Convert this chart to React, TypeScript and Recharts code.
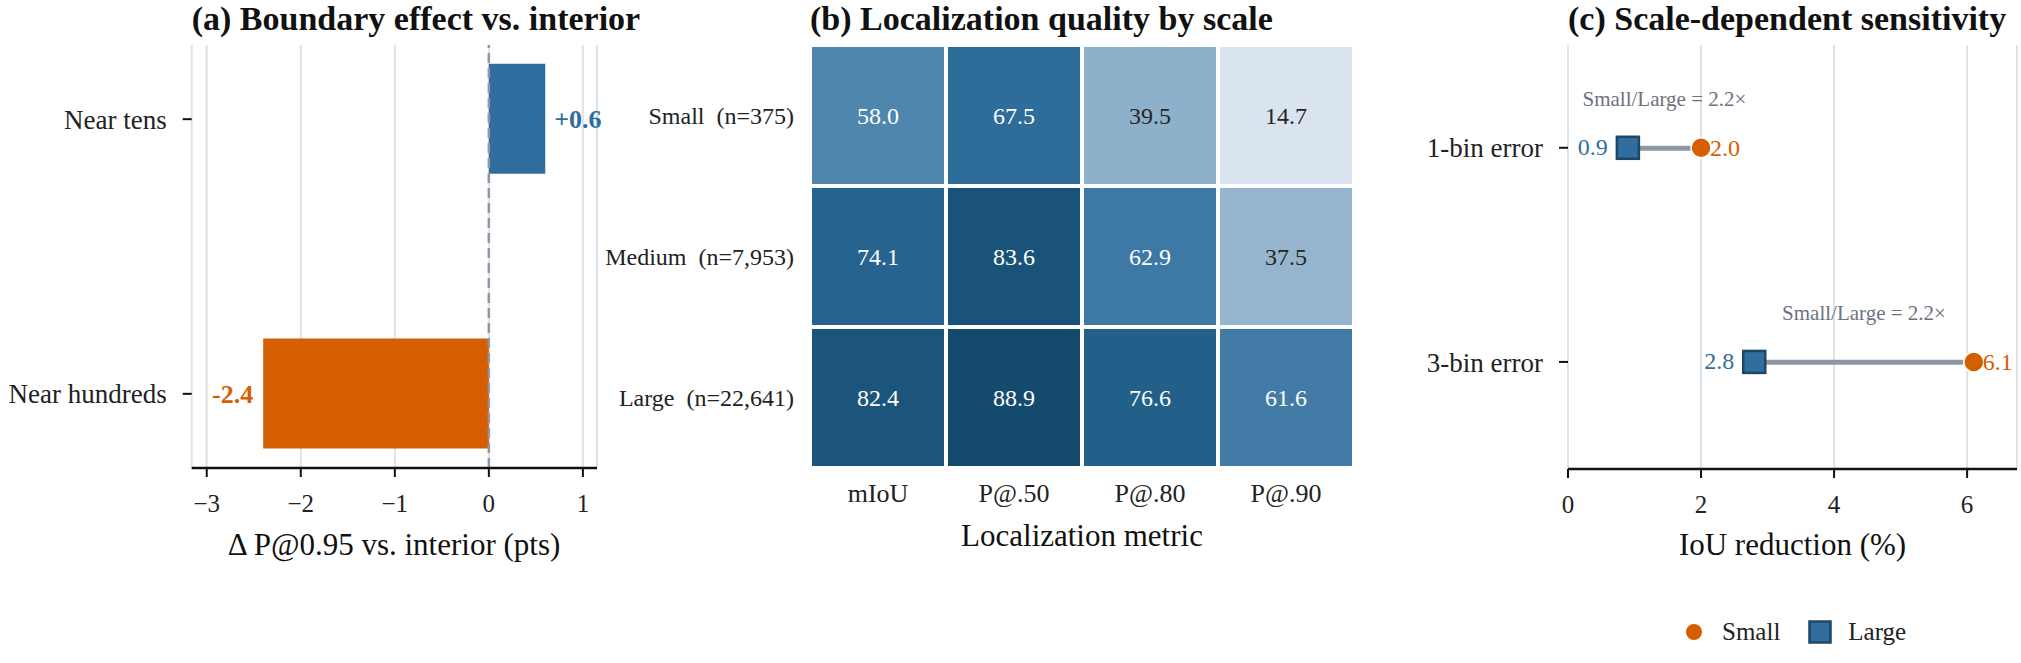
import React from "react";
import {
  ComposedChart,
  BarChart,
  Bar,
  Scatter,
  XAxis,
  YAxis,
  CartesianGrid,
  ReferenceLine,
  LabelList,
  Cell,
  Legend,
} from "recharts";

const FONT = '"Liberation Serif", "Times New Roman", serif';
const INK = "#222222";
const BLUE = "#2f6e9e";
const ORANGE = "#d55e00";
const GRID = "#dde3ea";
const SLATE = "#8e98a5";

// (a) boundary effect
const boundaryLabels = ["Near tens", "Near hundreds"];
const boundaryDelta = [0.6, -2.4];
const boundaryTicks = [-3, -2, -1, 0, 1];

// (b) heatmap
const metricNames = ["mIoU", "P@.50", "P@.80", "P@.90"];
const scaleLabels = ["Small\u00a0 (n=375)", "Medium\u00a0 (n=7,953)", "Large\u00a0 (n=22,641)"];
const smallScores = [58.0, 67.5, 39.5, 14.7];
const mediumScores = [74.1, 83.6, 62.9, 37.5];
const largeScores = [82.4, 88.9, 76.6, 61.6];

// (c) sensitivity
const errorNames = ["1-bin error", "3-bin error"];
const smallReduction = [2.0, 6.1];
const largeReduction = [0.9, 2.8];
const ratioText = ["2.2", "2.2"];
const reductionTicks = [0, 2, 4, 6];
const seriesNames = ["Small", "Large"];

const boundaryData = boundaryLabels.map((name, i) => ({ pos: i, name, delta: boundaryDelta[i] }));
const heatData = metricNames.map((metric, i) => ({
  metric,
  Small: smallScores[i],
  Medium: mediumScores[i],
  Large: largeScores[i],
}));
// stacked from the bottom up
const heatRows = [
  { key: "Large", scores: largeScores },
  { key: "Medium", scores: mediumScores },
  { key: "Small", scores: smallScores },
];
const sensData = errorNames.map((name, i) => ({
  pos: i,
  name,
  small: smallReduction[i],
  large: largeReduction[i],
  ratio: ratioText[i],
}));

const minus = (v: number) => (v < 0 ? `\u2212${Math.abs(v)}` : `${v}`);

// colormap for the heatmap cells
const heatStops: [number, number[]][] = [
  [14, [219, 229, 239]],
  [38, [146, 180, 204]],
  [58, [79, 134, 174]],
  [67, [47, 109, 155]],
  [76, [35, 96, 138]],
  [89, [19, 74, 109]],
];
const heatColor = (v: number) => {
  let i = 0;
  while (i < heatStops.length - 2 && v > heatStops[i + 1][0]) i++;
  const [v0, c0] = heatStops[i];
  const [v1, c1] = heatStops[i + 1];
  const t = Math.max(0, Math.min(1, (v - v0) / (v1 - v0)));
  const c = c0.map((a, k) => Math.round(a + (c1[k] - a) * t));
  return `rgb(${c[0]},${c[1]},${c[2]})`;
};

const renderDeltaLabel = (props: any) => {
  const { x, y, width, height, value } = props;
  const v = Number(value);
  const left = Math.min(x, x + width);
  const right = Math.max(x, x + width);
  const pos = v >= 0;
  return (
    <text
      x={pos ? right + 9 : left - 10}
      y={y + height / 2}
      dy="0.35em"
      textAnchor={pos ? "start" : "end"}
      fill={pos ? BLUE : ORANGE}
      fontSize={26}
      fontWeight="bold"
      fontFamily={FONT}
    >
      {pos ? `+${v.toFixed(1)}` : v.toFixed(1)}
    </text>
  );
};

const renderCellValue = (props: any) => {
  const { x, y, width, height, value } = props;
  const v = Number(value);
  return (
    <text
      x={x + width / 2}
      y={y + height / 2}
      dy="0.35em"
      textAnchor="middle"
      fill={v < 45 ? "#262626" : "#ffffff"}
      fontSize={24}
      fontFamily={FONT}
    >
      {v.toFixed(1)}
    </text>
  );
};

const renderRatio = (props: any) => {
  const { x, y, width, height, value } = props;
  return (
    <text
      x={x + width / 2}
      y={y + height / 2 - 50}
      dy="0.35em"
      textAnchor="middle"
      fill="#6b7280"
      fontSize={21}
      fontFamily={FONT}
    >
      {`Small/Large = ${value}\u00d7`}
    </text>
  );
};

const SmallDot = (props: any) => {
  const { cx, cy, payload } = props;
  return (
    <g>
      <circle cx={cx} cy={cy} r={10} fill={ORANGE} stroke="#ffffff" strokeWidth={1.5} />
      <text x={cx + 9} y={cy} dy="0.35em" fill={ORANGE} fontSize={24} fontFamily={FONT}>
        {payload.small.toFixed(1)}
      </text>
    </g>
  );
};

const LargeSquare = (props: any) => {
  const { cx, cy, payload } = props;
  return (
    <g>
      <rect x={cx - 11} y={cy - 11} width={22} height={22} fill={BLUE} stroke="#1e4766" strokeWidth={2.5} />
      <text x={cx - 20} y={cy} dy="0.3em" textAnchor="end" fill={BLUE} fontSize={24} fontFamily={FONT}>
        {payload.large.toFixed(1)}
      </text>
    </g>
  );
};

const renderLegend = () => (
  <div style={{ display: "flex", alignItems: "center", fontSize: 25, color: INK, fontFamily: FONT }}>
    {seriesNames.map((name) => (
      <span key={name} style={{ display: "flex", alignItems: "center", marginRight: 28 }}>
        <svg width={24} height={24} style={{ marginRight: 16 }}>
          {name === "Small" ? (
            <circle cx={12} cy={12} r={8} fill={ORANGE} />
          ) : (
            <rect x={1.5} y={1.5} width={21} height={21} fill={BLUE} stroke="#1e4766" strokeWidth={2.5} />
          )}
        </svg>
        {name}
      </span>
    ))}
  </div>
);

const titleStyle = (left: number): React.CSSProperties => ({
  position: "absolute",
  left,
  top: 0,
  fontSize: 34,
  lineHeight: "normal",
  fontWeight: "bold",
  whiteSpace: "nowrap",
  color: "#111",
});

const axisLabelStyle = (center: number, top: number): React.CSSProperties => ({
  position: "absolute",
  left: center - 300,
  width: 600,
  top,
  fontSize: 31,
  lineHeight: "31px",
  textAlign: "center",
  whiteSpace: "nowrap",
  color: "#111",
});

const axisLine = { stroke: "#111", strokeWidth: 2.5 };
const tickLine = { stroke: "#111", strokeWidth: 2 };

export default function App() {
  return (
    <div
      style={{
        position: "absolute",
        left: 0,
        top: 0,
        width: 2021,
        height: 663,
        background: "#fff",
        overflow: "hidden",
        fontFamily: FONT,
      }}
    >
      {/* (a) */}
      <div style={{ position: "absolute", left: 0, top: 0 }}>
        <ComposedChart
          width={620}
          height={663}
          layout="vertical"
          data={boundaryData}
          margin={{ top: 45, right: 23, left: 0, bottom: 135 }}
        >
          <CartesianGrid horizontal={false} stroke={GRID} strokeWidth={2} />
          <XAxis
            type="number"
            domain={[-3.16, 1.15]}
            ticks={boundaryTicks}
            allowDataOverflow
            height={60}
            tickFormatter={minus}
            axisLine={axisLine}
            tickLine={tickLine}
            tickSize={9}
            tickMargin={17}
            tick={{ fill: INK, fontSize: 25 }}
          />
          <YAxis
            type="number"
            dataKey="pos"
            domain={[-0.27, 1.27]}
            ticks={[0, 1]}
            allowDataOverflow
            width={191.7}
            axisLine={false}
            tickLine={tickLine}
            tickSize={9}
            tickMargin={16}
            tickFormatter={(v: number) => boundaryLabels[v]}
            tick={{ fill: INK, fontSize: 27 }}
          />
          <Bar dataKey="delta" barSize={110} isAnimationActive={false}>
            {boundaryData.map((d) => (
              <Cell key={d.name} fill={d.delta >= 0 ? BLUE : ORANGE} />
            ))}
            <LabelList dataKey="delta" content={renderDeltaLabel} />
          </Bar>
          <ReferenceLine x={0} stroke={SLATE} strokeWidth={2.5} strokeDasharray="10 5" />
        </ComposedChart>
      </div>

      {/* (b) */}
      <div style={{ position: "absolute", left: 560, top: 0 }}>
        <BarChart
          width={820}
          height={663}
          data={heatData}
          margin={{ top: 45, right: 26, left: 0, bottom: 135 }}
          barCategoryGap={0}
          barGap={0}
        >
          <XAxis
            dataKey="metric"
            height={60}
            axisLine={false}
            tickLine={false}
            tickSize={0}
            tickMargin={16}
            tick={{ fill: INK, fontSize: 26 }}
          />
          <YAxis
            type="number"
            domain={[0, 3]}
            ticks={[0.5, 1.5, 2.5]}
            width={250}
            axisLine={false}
            tickLine={false}
            tickSize={0}
            tickMargin={16}
            tickFormatter={(v: number) => scaleLabels[2 - Math.floor(v)]}
            tick={{ fill: INK, fontSize: 24 }}
          />
          {heatRows.map((row) => (
            <Bar key={row.key} name={row.key} dataKey={() => 1} stackId="heat" isAnimationActive={false}>
              {row.scores.map((s, i) => (
                <Cell key={i} fill={heatColor(s)} stroke="#ffffff" strokeWidth={4} />
              ))}
              <LabelList dataKey={row.key} content={renderCellValue} />
            </Bar>
          ))}
        </BarChart>
      </div>

      {/* (c) */}
      <div style={{ position: "absolute", left: 1380, top: 0 }}>
        <ComposedChart
          width={641}
          height={663}
          layout="vertical"
          data={sensData}
          margin={{ top: 45, right: 4, left: 0, bottom: 134 }}
        >
          <CartesianGrid horizontal={false} stroke={GRID} strokeWidth={2} />
          <XAxis
            type="number"
            domain={[0, 6.75]}
            ticks={reductionTicks}
            allowDataOverflow
            height={60}
            axisLine={axisLine}
            tickLine={tickLine}
            tickSize={9}
            tickMargin={17}
            tick={{ fill: INK, fontSize: 25 }}
          />
          <YAxis
            type="number"
            dataKey="pos"
            domain={[-0.48, 1.5]}
            ticks={[0, 1]}
            allowDataOverflow
            width={188}
            axisLine={false}
            tickLine={tickLine}
            tickSize={9}
            tickMargin={16}
            tickFormatter={(v: number) => errorNames[v]}
            tick={{ fill: INK, fontSize: 27 }}
          />
          <Bar
            dataKey={(d: any) => [d.large, d.small]}
            barSize={5}
            fill={SLATE}
            legendType="none"
            isAnimationActive={false}
          >
            <LabelList dataKey="ratio" content={renderRatio} />
          </Bar>
          <Scatter name="Small" dataKey="small" fill={ORANGE} shape={SmallDot} isAnimationActive={false} />
          <Scatter name="Large" dataKey="large" fill={BLUE} shape={LargeSquare} isAnimationActive={false} />
          <Legend
            layout="horizontal"
            verticalAlign="middle"
            align="center"
            wrapperStyle={{ left: 302, top: 618, width: 300 }}
            content={renderLegend}
          />
        </ComposedChart>
      </div>

      <div style={titleStyle(191.7)}>(a) Boundary effect vs. interior</div>
      <div style={titleStyle(810)}>(b) Localization quality by scale</div>
      <div style={titleStyle(1568)}>(c) Scale-dependent sensitivity</div>

      <div style={axisLabelStyle(394, 529)}>Δ P@0.95 vs. interior (pts)</div>
      <div style={axisLabelStyle(1082, 520)}>Localization metric</div>
      <div style={axisLabelStyle(1792.5, 529)}>IoU reduction (%)</div>
    </div>
  );
}
